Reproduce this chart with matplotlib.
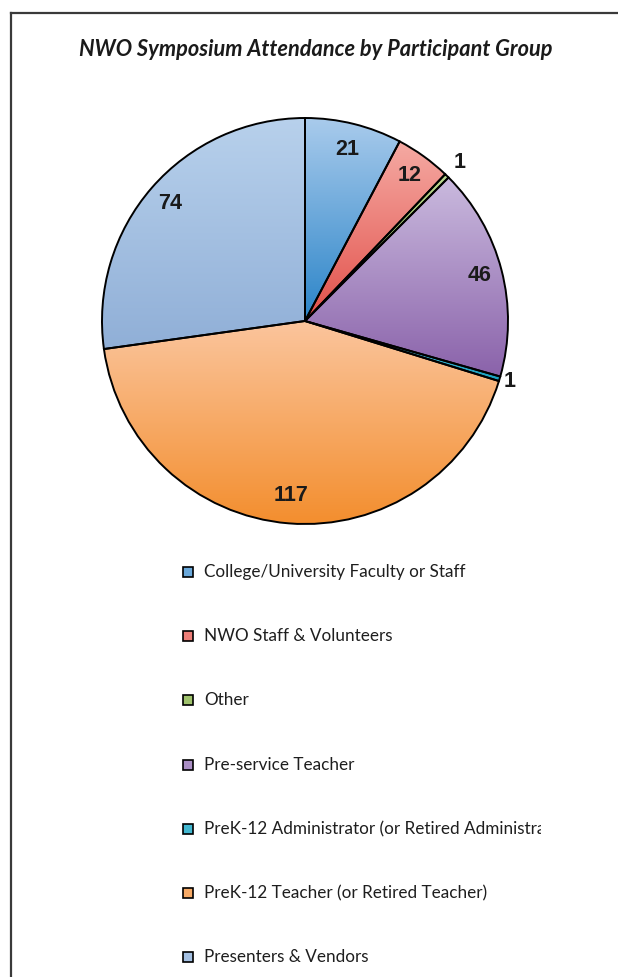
import numpy as np
import matplotlib
matplotlib.use('Agg')
import matplotlib.pyplot as plt
from matplotlib.patches import Rectangle
from matplotlib.lines import Line2D
from matplotlib.colors import to_rgb

# data
groups = ['College/University Faculty or Staff', 'NWO Staff & Volunteers', 'Other',
          'Pre-service Teacher', 'PreK-12 Administrator (or Retired Administrator)',
          'PreK-12 Teacher (or Retired Teacher)', 'Presenters & Vendors']
counts = [21, 12, 1, 46, 1, 117, 74]
top_colors = ['#a9cbec', '#f5aaa3', '#b9d690', '#cabade', '#6ccde0', '#fbc59d', '#b8d1ec']
bottom_colors = ['#2a84c8', '#e2504a', '#86b04a', '#8a62aa', '#17a0c0', '#f38e2e', '#90afd7']
label_r = [0.87, 0.88, 1.09, 0.89, 1.05, 0.86, 0.88]

W, H = 618, 977
fig = plt.figure(figsize=(W / 100, H / 100), dpi=100)

# pie axes: centre (305, 321) px, radius 203 px
cx, cy, R = 305, 321, 203
ax = fig.add_axes([(cx - R) / W, (H - cy - R) / H, 2 * R / W, 2 * R / H])
wedges, _ = ax.pie(counts, startangle=90, counterclock=False, radius=1,
                   wedgeprops=dict(edgecolor='black', linewidth=1.4))
ax.axis('off')

total = sum(counts)
cum = 0
for i, w in enumerate(wedges):
    # vertical gradient over each wedge's own bounding box
    bb = w.get_path().get_extents()
    c1 = np.array(to_rgb(bottom_colors[i]))
    c2 = np.array(to_rgb(top_colors[i]))
    t = np.linspace(0, 1, 256)[:, None]
    grad = (c1 * (1 - t) + c2 * t)[:, None, :]
    im = ax.imshow(grad, extent=(bb.x0, bb.x1, bb.y0, bb.y1), origin='lower',
                   aspect='auto', zorder=1, interpolation='bilinear')
    im.set_clip_path(w)
    w.set_facecolor('none')
    w.set_zorder(2)

    mid = 90 - (cum + counts[i] / 2) / total * 360
    cum += counts[i]
    a = np.deg2rad(mid)
    ax.text(label_r[i] * np.cos(a), label_r[i] * np.sin(a), str(counts[i]),
            ha='center', va='center', fontsize=15.5, fontweight='bold',
            family='Liberation Sans', color='#1a1a1a', zorder=5)

ax.set_xlim(-1, 1)
ax.set_ylim(-1, 1)
ax.set_aspect('auto')

# overlay in pixel coordinates for frame, title, legend
ov = fig.add_axes([0, 0, 1, 1], zorder=-1)
ov.set_xlim(0, W)
ov.set_ylim(H, 0)
ov.axis('off')

ov.add_line(Line2D([11, W], [13, 13], color='#3a3a3a', linewidth=1.6))
ov.add_line(Line2D([11, 11], [13, H], color='#3a3a3a', linewidth=1.6))

ov.text(316, 50, 'NWO Symposium Attendance by Participant Group', ha='center', va='center',
        fontsize=15.7, fontweight='bold', style='italic', family='Lato', color='#1a1a1a')

# the long entry is cut off at the right in the original
cut = Rectangle((0, 0), 541, H, transform=ov.transData, visible=False)
ov.add_patch(cut)

row_y = [572, 636, 700, 765, 829, 893, 957]
for i, name in enumerate(groups):
    mix = (np.array(to_rgb(top_colors[i])) + np.array(to_rgb(bottom_colors[i]))) / 2
    ov.add_patch(Rectangle((183, row_y[i] - 5), 10, 10, facecolor=mix,
                           edgecolor='black', linewidth=1.2))
    txt = ov.text(204, row_y[i], name, ha='left', va='center', fontsize=12.3,
                  family='Lato', color='#1e1e1e')
    txt.set_clip_on(True)
    txt.set_clip_path(cut)

fig.savefig('out.png', dpi=100)
